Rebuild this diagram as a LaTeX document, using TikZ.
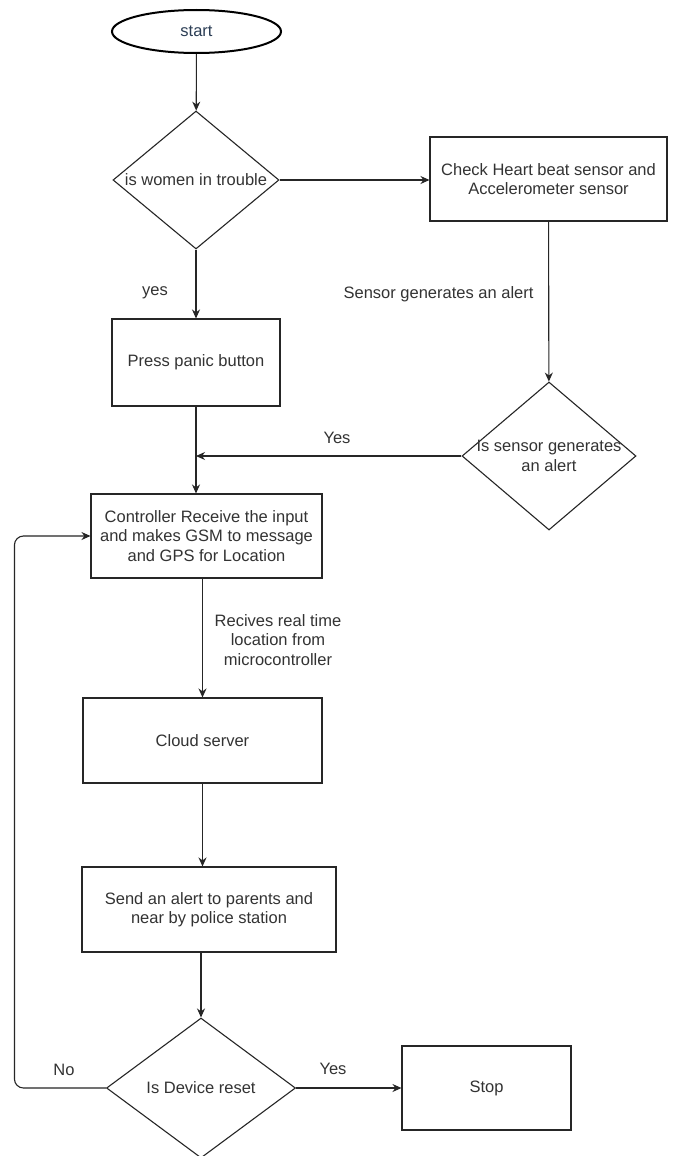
\documentclass[tikz,border=0pt]{standalone}
\usepackage{fontspec}
\setmainfont{Liberation Sans}
\usetikzlibrary{shapes.geometric,arrows.meta}
\definecolor{txtgray}{RGB}{51,51,51}
\definecolor{startblue}{RGB}{44,62,85}
\begin{document}
\begin{tikzpicture}[x=1pt,y=-1pt,
  every node/.style={font=\fontsize{16.5}{19.5}\selectfont, text=txtgray},
  every label/.style={align=center},
  box/.style={draw=black!85, line width=1.1pt, rectangle, inner sep=0pt, align=center},
  decision/.style={draw=black!85, line width=1.1pt, diamond, inner sep=0pt},
  flow/.style={draw=black!85, line width=1.1pt, -{Stealth[length=9pt,width=8pt]}}]
\useasboundingbox[fill=white] (0,0) rectangle (672,1156);
% shapes
\node[ellipse, draw=black, line width=2pt, minimum width=169pt, minimum height=43pt,
  text=startblue] (start) at (196.5,31.5) {start};
\node[decision, minimum width=166pt, minimum height=138pt,
  label=center:{is women in trouble}] (trouble) at (196,180) {};
\node[box, minimum width=237pt, minimum height=84pt] (check) at (548.5,179)
  {Check Heart beat sensor and\\Accelerometer sensor};
\node[box, minimum width=168pt, minimum height=87pt] (panic) at (196,362.5) {Press panic button};
\node[decision, minimum width=174pt, minimum height=148pt,
  label=center:{Is sensor generates\\an alert}] (sensor) at (549,456) {};
\node[box, minimum width=231pt, minimum height=84pt] (ctrl) at (206.5,536)
  {Controller Receive the input\\and makes GSM to message\\and GPS for Location};
\node[box, minimum width=239pt, minimum height=85pt] (cloud) at (202.5,740.5) {Cloud server};
\node[box, minimum width=254pt, minimum height=85pt] (send) at (209,909.5)
  {Send an alert to parents and\\near by police station};
\node[decision, minimum width=189pt, minimum height=140pt,
  label=center:{Is Device reset}] (reset) at (201,1088) {};
\node[box, minimum width=169pt, minimum height=84pt] (stop) at (486.5,1088) {Stop};
% labels
\node (yes1) at (155,293) {yes};
\node[anchor=east] (sensmsg) at (537,294) {Sensor generates an alert};
\node (yes2) at (337,438) {Yes};
\node[align=center] (recv) at (278,640) {Recives real time\\location from\\microcontroller};
\node (no) at (64,1070) {No};
\node (yes3) at (333,1069) {Yes};
% connectors
\draw[flow] (start) -- (trouble);
\draw[flow] (trouble) -- (panic);
\draw[flow] (trouble.east) -- (check.west |- trouble.east);
\draw[flow] (check) -- (sensor);
\draw[flow] (panic.south) -- (panic.south |- ctrl.north);
\draw[flow] (sensor.west) -- (panic.south |- sensor.west);
\draw[flow] (ctrl.south -| cloud.north) -- (cloud.north);
\draw[flow] (cloud.south) -- (cloud.south |- send.north);
\draw[flow] (send.south -| reset.north) -- (reset.north);
\draw[flow] (reset.east) -- (stop.west);
\path (ctrl.west) ++(-76,0) coordinate (looptop);
\draw[flow, rounded corners=9pt] (reset.west) -| (looptop) -- (ctrl.west);
\end{tikzpicture}
\end{document}
